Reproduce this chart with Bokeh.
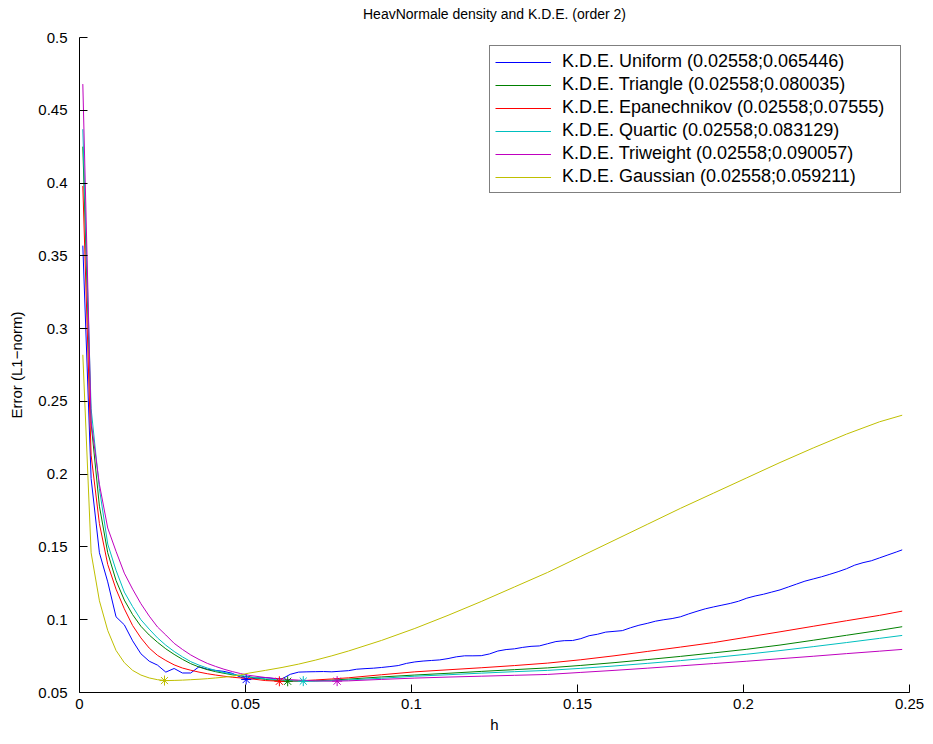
from bokeh.plotting import figure
from bokeh.models import Legend, LegendItem, FixedTicker, PrintfTickFormatter, ColumnDataSource, LinearAxis
from bokeh.embed import file_html
from bokeh.resources import INLINE

# ---------------- data ----------------
h_grid = [0.001, 0.0035, 0.006, 0.0085, 0.011, 0.0135, 0.016, 0.0185, 0.021, 0.0235,
          0.026, 0.0285, 0.031, 0.0335, 0.036, 0.0385, 0.041, 0.0435, 0.046, 0.0485,
          0.051, 0.056, 0.061, 0.066, 0.071, 0.076, 0.081, 0.091, 0.101, 0.111,
          0.121, 0.131, 0.141, 0.151, 0.161, 0.171, 0.181, 0.191, 0.201, 0.211,
          0.221, 0.231, 0.241, 0.2478]

uniform_h = [0.001, 0.0035, 0.006, 0.0085, 0.011, 0.0135, 0.016, 0.0185, 0.021, 0.0235,
             0.026, 0.0285, 0.031, 0.0335, 0.036, 0.0385, 0.041, 0.0435, 0.046, 0.0485,
             0.051, 0.0535, 0.056, 0.0585, 0.061, 0.0635, 0.066, 0.0685, 0.071, 0.0735,
             0.076, 0.0785, 0.081, 0.0835, 0.086, 0.0885, 0.091, 0.0935, 0.096, 0.0985,
             0.101, 0.1035, 0.106, 0.1085, 0.111, 0.1135, 0.116, 0.1185, 0.121, 0.1235,
             0.126, 0.1285, 0.131, 0.1335, 0.136, 0.1385, 0.141, 0.1435, 0.146, 0.1485,
             0.151, 0.1535, 0.156, 0.1585, 0.161, 0.1635, 0.166, 0.1685, 0.171, 0.1735,
             0.176, 0.1785, 0.181, 0.1835, 0.186, 0.1885, 0.191, 0.1935, 0.196, 0.1985,
             0.201, 0.2035, 0.206, 0.2085, 0.211, 0.2135, 0.216, 0.2185, 0.221, 0.2235,
             0.226, 0.2285, 0.231, 0.2335, 0.236, 0.2385, 0.241, 0.2435, 0.246, 0.2478]
uniform_err = [0.357, 0.197, 0.146, 0.126, 0.102, 0.0965, 0.0855, 0.0766, 0.0715, 0.0688,
               0.0640, 0.0665, 0.0634, 0.0634, 0.0677, 0.0660, 0.0652, 0.0645, 0.0632, 0.0605,
               0.0590, 0.0600, 0.0603, 0.0596, 0.0594, 0.0625, 0.0640, 0.0642, 0.0643, 0.0644,
               0.0642, 0.0646, 0.0650, 0.0660, 0.0664, 0.0667, 0.0672, 0.0678, 0.0685, 0.0700,
               0.0710, 0.0716, 0.0720, 0.0724, 0.0733, 0.0745, 0.0752, 0.0752, 0.0753, 0.0765,
               0.0785, 0.0795, 0.0800, 0.0810, 0.0817, 0.0820, 0.0835, 0.0850, 0.0856, 0.0857,
               0.0870, 0.0890, 0.0900, 0.0915, 0.0920, 0.0925, 0.0945, 0.0962, 0.0975, 0.0990,
               0.1000, 0.1008, 0.1020, 0.1040, 0.1058, 0.1075, 0.1088, 0.1100, 0.1112, 0.1127,
               0.1148, 0.1163, 0.1175, 0.1190, 0.1205, 0.1225, 0.1245, 0.1265, 0.1280, 0.1295,
               0.1312, 0.1330, 0.1350, 0.1375, 0.1392, 0.1405, 0.1425, 0.1445, 0.1465, 0.1480]

triangle_err = [0.425, 0.235, 0.178, 0.146, 0.127, 0.1135, 0.1035, 0.0955, 0.0895, 0.0845,
                0.0800, 0.0762, 0.0728, 0.0698, 0.0675, 0.0657, 0.0643, 0.0632, 0.0622, 0.0614,
                0.0607, 0.0590, 0.0579, 0.0578, 0.0580, 0.0585, 0.0592, 0.0607, 0.0620, 0.0632,
                0.0645, 0.0657, 0.0669, 0.0686, 0.0705, 0.0726, 0.0748, 0.0772, 0.0797, 0.0826,
                0.0859, 0.0893, 0.0927, 0.0952]

epanechnikov_err = [0.398, 0.213, 0.166, 0.138, 0.121, 0.1075, 0.0960, 0.0875, 0.0805, 0.0755,
                    0.0720, 0.0690, 0.0668, 0.0653, 0.0640, 0.0629, 0.0620, 0.0612, 0.0605, 0.0600,
                    0.0596, 0.0582, 0.0577, 0.0580, 0.0586, 0.0593, 0.0601, 0.0622, 0.0642, 0.0656,
                    0.0670, 0.0685, 0.0702, 0.0725, 0.0752, 0.0782, 0.0812, 0.0843, 0.0880, 0.0917,
                    0.0955, 0.0993, 0.1030, 0.1059]

quartic_err = [0.437, 0.245, 0.190, 0.152, 0.134, 0.119, 0.109, 0.100, 0.0935, 0.0875,
               0.0825, 0.0782, 0.0745, 0.0712, 0.0688, 0.0668, 0.0651, 0.0637, 0.0626, 0.0616,
               0.0608, 0.0594, 0.0585, 0.0578, 0.0578, 0.0581, 0.0586, 0.0598, 0.0612, 0.0622,
               0.0633, 0.0643, 0.0652, 0.0666, 0.0682, 0.0700, 0.0719, 0.0740, 0.0763, 0.0788,
               0.0815, 0.0843, 0.0872, 0.0892]

triweight_err = [0.468, 0.236, 0.193, 0.163, 0.147, 0.132, 0.121, 0.111, 0.1025, 0.0950,
                 0.0895, 0.0838, 0.0796, 0.0758, 0.0727, 0.0700, 0.0679, 0.0660, 0.0644, 0.0630,
                 0.0618, 0.0603, 0.0592, 0.0585, 0.0580, 0.0578, 0.0580, 0.0590, 0.0599, 0.0606,
                 0.0612, 0.0618, 0.0624, 0.0638, 0.0652, 0.0667, 0.0683, 0.0699, 0.0715, 0.0732,
                 0.0749, 0.0767, 0.0784, 0.0796]

gaussian_err = [0.282, 0.146, 0.113, 0.0926, 0.0789, 0.0705, 0.0652, 0.0620, 0.0600, 0.0588,
                0.0582, 0.0583, 0.0585, 0.0588, 0.0591, 0.0595, 0.0600, 0.0605, 0.0612, 0.0621,
                0.0633, 0.0652, 0.0672, 0.0695, 0.0722, 0.0752, 0.0785, 0.0858, 0.0940, 0.1030,
                0.1125, 0.1225, 0.1325, 0.1435, 0.1545, 0.1655, 0.1765, 0.1870, 0.1975, 0.2080,
                0.2180, 0.2275, 0.2360, 0.2405]

series_labels = ["K.D.E. Uniform (0.02558;0.065446)",
                 "K.D.E. Triangle (0.02558;0.080035)",
                 "K.D.E. Epanechnikov (0.02558;0.07555)",
                 "K.D.E. Quartic (0.02558;0.083129)",
                 "K.D.E. Triweight (0.02558;0.090057)",
                 "K.D.E. Gaussian (0.02558;0.059211)"]
series_colors = ["#0000FF", "#008000", "#FF0000", "#00BFBF", "#BF00BF", "#BFBF00"]

min_h = [0.0502, 0.0627, 0.0602, 0.0674, 0.0776, 0.0256]
min_err = [0.0589, 0.0577, 0.0577, 0.0578, 0.0578, 0.0582]

x_ticks = [0, 0.05, 0.1, 0.15, 0.2, 0.25]
x_tick_labels = ["0", "0.05", "0.1", "0.15", "0.2", "0.25"]
y_ticks = [0.05, 0.1, 0.15, 0.2, 0.25, 0.3, 0.35, 0.4, 0.45, 0.5]
y_tick_labels = ["0.05", "0.1", "0.15", "0.2", "0.25", "0.3", "0.35", "0.4", "0.45", "0.5"]

title_text = "HeavNormale density and K.D.E. (order 2)"
x_label = "h"
y_label = "Error (L1\u2212norm)"

# ---------------- figure ----------------
FONT = "Liberation Sans"
p = figure(width=933, height=744, x_range=(0, 0.25), y_range=(0.05, 0.5),
           output_backend="svg", toolbar_location=None,
           min_border_left=79, min_border_right=24, min_border_top=37, min_border_bottom=52)
p.outline_line_color = None
p.xgrid.visible = False
p.ygrid.visible = False
p.background_fill_color = "white"
p.border_fill_color = "white"

main_x = p.below[0]
main_y = p.left[0]
main_x.ticker = FixedTicker(ticks=x_ticks)
main_y.ticker = FixedTicker(ticks=y_ticks)
main_x.formatter = PrintfTickFormatter(format="%g")
main_y.formatter = PrintfTickFormatter(format="%g")
main_x.major_label_overrides = {t: s for t, s in zip(x_ticks, x_tick_labels)}
main_y.major_label_overrides = {t: s for t, s in zip(y_ticks, y_tick_labels)}
main_x.axis_label = x_label
main_y.axis_label = y_label

for ax in (main_x, main_y):
    ax.axis_line_color = "black"
    ax.axis_line_width = 1
    ax.major_tick_line_color = "black"
    ax.major_tick_in = 8
    ax.major_tick_out = 0
    ax.minor_tick_line_color = None
    ax.major_label_text_font = FONT
    ax.major_label_text_font_size = "15px"
    ax.major_label_text_color = "black"
    ax.axis_label_text_font = FONT
    ax.axis_label_text_font_size = "15px"
    ax.axis_label_text_font_style = "normal"
    ax.axis_label_text_color = "black"
main_x.major_label_standoff = 6
main_x.axis_label_standoff = 4
main_y.major_label_standoff = 12
main_y.axis_label_standoff = 10

# title: drawn as the label of a bare axis above the frame
title_axis = LinearAxis(axis_label=title_text, ticker=FixedTicker(ticks=[]))
title_axis.axis_line_color = None
title_axis.major_tick_line_color = None
title_axis.minor_tick_line_color = None
title_axis.major_tick_in = 0
title_axis.major_tick_out = 0
title_axis.minor_tick_in = 0
title_axis.minor_tick_out = 0
title_axis.major_label_standoff = 0
title_axis.major_label_text_color = None
title_axis.axis_label_standoff = 16
title_axis.axis_label_text_font = FONT
title_axis.axis_label_text_font_size = "14px"
title_axis.axis_label_text_font_style = "normal"
title_axis.axis_label_text_color = "black"
p.add_layout(title_axis, "above")

series_h = [uniform_h, h_grid, h_grid, h_grid, h_grid, h_grid]
series_err = [uniform_err, triangle_err, epanechnikov_err, quartic_err, triweight_err, gaussian_err]

items = []
for hs, es, lab, col in zip(series_h, series_err, series_labels, series_colors):
    r = p.line(hs, es, line_color=col, line_width=1)
    items.append(LegendItem(label=lab, renderers=[r]))

star_src = ColumnDataSource(dict(h=min_h, e=min_err, c=series_colors))
p.scatter("h", "e", source=star_src, marker="asterisk", size=10, line_color="c", line_width=1)

legend = Legend(items=items, location="top_right")
legend.border_line_color = "black"
legend.border_line_width = 1
legend.background_fill_color = "white"
legend.background_fill_alpha = 1
legend.label_text_font = FONT
legend.label_text_font_size = "18px"
legend.label_text_color = "black"
legend.glyph_width = 56
legend.glyph_height = 20
legend.label_height = 20
legend.label_width = 333
legend.label_standoff = 11
legend.spacing = 2
legend.padding = 5
legend.margin = 8
p.add_layout(legend)

open("out.html", "w").write(file_html(p, INLINE))
